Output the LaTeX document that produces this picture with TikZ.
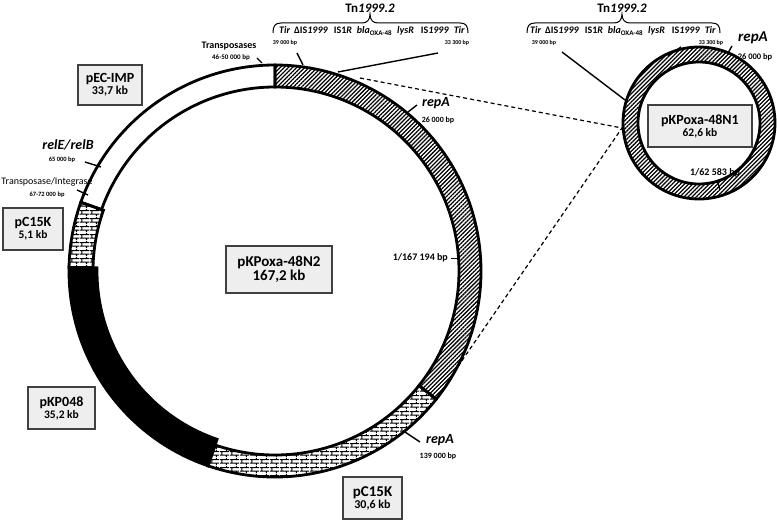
\documentclass[tikz,border=0pt]{standalone}
\usepackage{fontspec}
\setmainfont{Carlito}
\usetikzlibrary{patterns.meta}
\definecolor{boxfill}{RGB}{238,238,238}
\definecolor{boxline}{RGB}{64,64,64}
\newcommand\fsb[2]{\fontsize{#1}{#2}\selectfont}
\tikzdeclarepattern{
  name=mybricks, type=uncolored,
  bottom left={(0pt,0pt)}, top right={(10pt,8pt)},
  tile size={(10pt,8pt)},
  code={
    \draw[line width=1.1pt] (0pt,2pt) -- (10pt,2pt) (0pt,6pt) -- (10pt,6pt)
      (2pt,2pt) -- (2pt,6pt) (7pt,6pt) -- (7pt,8pt) (7pt,0pt) -- (7pt,2pt);
  }
}
\begin{document}
\begin{tikzpicture}[x=1pt,y=1pt,
  pbox/.style={draw=boxline, fill=boxfill, line width=1.1pt, align=center, inner sep=0pt},
  ringseg/.style={draw=black, line width=2.8pt, line join=miter},
  hatchfill/.style={pattern={Lines[angle=45,distance=2.9pt,line width=1.25pt]}},
  brickfill/.style={pattern=mybricks},
  tk/.style={line width=1.4pt},
  dashline/.style={line width=1.2pt, dash pattern=on 4pt off 3pt},
  lbl/.style={inner sep=0pt, font=\bfseries},
  brace/.style={line width=1pt}
]
\useasboundingbox (0,0) rectangle (777,520);

% ---------- big plasmid ring ----------
\begin{scope}[shift={(275pt,249pt)}]
  \path[ringseg, fill=white] (90:206pt) arc[start angle=90, end angle=160.5, radius=206pt]
     -- (160.5:184pt) arc[start angle=160.5, end angle=90, radius=184pt] -- cycle;
  \path[ringseg, hatchfill] (-38.5:206pt) arc[start angle=-38.5, end angle=90, radius=206pt]
     -- (90:184pt) arc[start angle=90, end angle=-38.5, radius=184pt] -- cycle;
  \path[ringseg, brickfill] (251:206pt) arc[start angle=251, end angle=321.5, radius=206pt]
     -- (321.5:184pt) arc[start angle=321.5, end angle=251, radius=184pt] -- cycle;
  \path[ringseg, brickfill] (160.5:206pt) arc[start angle=160.5, end angle=179, radius=206pt]
     -- (179:182pt) arc[start angle=179, end angle=160.5, radius=182pt] -- cycle;
  \path[ringseg, fill=black] (179:206pt) arc[start angle=179, end angle=251, radius=206pt]
     -- (251:178pt) arc[start angle=251, end angle=179, radius=178pt] -- cycle;
\end{scope}

% ---------- small plasmid ring ----------
\path[ringseg, hatchfill, even odd rule] (699,397) circle[radius=76pt] (699,397) circle[radius=61pt];

% ---------- boxes ----------
\node[pbox, minimum width=64pt, minimum height=40pt] (bEC) at (110,435)
  {\fsb{14}{18}\bfseries pEC-IMP\\\fsb{12}{18}\bfseries 33,7 kb};
\node[pbox, minimum width=60pt, minimum height=42pt] (bC15a) at (33,291)
  {\fsb{14}{16}\bfseries pC15K\\\fsb{11.5}{16}\bfseries 5,1 kb};
\node[pbox, minimum width=106pt, minimum height=47pt] (bN2) at (279,250.5)
  {\fsb{15}{18}\bfseries pKPoxa-48N2\\\fsb{15}{18}\bfseries 167,2 kb};
\node[pbox, minimum width=67pt, minimum height=42pt] (bKP) at (61.5,112)
  {\fsb{14}{16}\bfseries pKP048\\\fsb{11.5}{16}\bfseries 35,2 kb};
\node[pbox, minimum width=59pt, minimum height=42pt] (bC15b) at (372.5,22)
  {\fsb{15}{16}\bfseries pC15K\\\fsb{12}{16}\bfseries 30,6 kb};
\node[pbox, minimum width=104pt, minimum height=42pt] (bN1) at (700,394)
  {\fsb{14}{15}\bfseries pKPoxa-48N1\\\fsb{11.5}{15}\bfseries 62,6 kb};

% ---------- Tn1999.2 headers ----------
\node[lbl] (tnA) at (370,512) {\fsb{13}{13}Tn\textit{1999.2}};
\node[lbl] (tnB) at (622,512) {\fsb{13}{13}Tn\textit{1999.2}};
\node[lbl] (genesA) at (372,489) {\fsb{10}{10}\textit{Tir}\hspace{4pt}ΔIS\textit{1999}\hspace{6pt}IS1\textit{R}\hspace{5pt}\textit{bla}\textsubscript{OXA-48}\hspace{5pt}\textit{lysR}\hspace{7pt}IS\textit{1999}\hspace{5pt}\textit{Tir}};
\node[lbl] (genesB) at (623,489) {\fsb{10}{10}\textit{Tir}\hspace{4pt}ΔIS\textit{1999}\hspace{6pt}IS1\textit{R}\hspace{5pt}\textit{bla}\textsubscript{OXA-48}\hspace{5pt}\textit{lysR}\hspace{7pt}IS\textit{1999}\hspace{5pt}\textit{Tir}};
\draw[brace] (273,487) .. controls (273,494) and (275,497) .. (281,497) -- (362,497)
  .. controls (367,497) and (370,500) .. (370,506) .. controls (370,500) and (373,497) .. (378,497)
  -- (460,497) .. controls (466,497) and (468,494) .. (468,487);
\draw[brace] (527,487) .. controls (527,494) and (529,497) .. (535,497) -- (614,497)
  .. controls (619,497) and (622,500) .. (622,506) .. controls (622,500) and (625,497) .. (630,497)
  -- (712,497) .. controls (718,497) and (720,494) .. (720,487);

% ---------- labels, big ring ----------
\node[lbl] (trp) at (229,474) {\fsb{10}{10}Transposases};
\node[lbl] (trpbp) at (231,462) {\fsb{7}{7}46-50 000 bp};
\node[lbl] (a39) at (285,477) {\fsb{6}{6}39 000 bp};
\node[lbl] (a33) at (457,477) {\fsb{6}{6}33 300 bp};
\node[lbl] (repA1) at (436,417) {\fsb{14}{14}\itshape repA};
\node[lbl] (repA1bp) at (438,400) {\fsb{8}{8}26 000 bp};
\node[lbl, anchor=east] (ori1) at (448,262) {\fsb{10}{10}1/167 194 bp};
\node[lbl] (repA2) at (440,80) {\fsb{14}{14}\itshape repA};
\node[lbl] (repA2bp) at (438,64) {\fsb{8}{8}139 000 bp};
\node[lbl] (rel) at (68,375) {\fsb{14}{14}\itshape relE/relB};
\node[lbl] (relbp) at (62,360) {\fsb{6.5}{6.5}65 000 bp};
\node[inner sep=0pt] (ti) at (47,338) {\fsb{10}{10}Transposase/Integrase};
\node[lbl] (tibp) at (47,325) {\fsb{6.5}{6.5}67-72 000 bp};

% ---------- labels, small ring ----------
\node[lbl] (b39) at (544,477) {\fsb{6}{6}39 000 bp};
\node[lbl] (b33) at (711,477) {\fsb{6}{6}33 300 bp};
\node[lbl] (repA3) at (753,482) {\fsb{15}{15}\itshape repA};
\node[lbl] (repA3bp) at (755,463) {\fsb{8.5}{8.5}26 000 bp};
\node[lbl] (ori2) at (715,347) {\fsb{10}{10}1/62 583 bp};

% ---------- tick coordinates ----------
\coordinate (t1a) at (257,462); \coordinate (t1b) at (262,457);
\coordinate (t2a) at (297,467); \coordinate (t2b) at (303,455);
\coordinate (t3a) at (338,448); \coordinate (t3b) at (438,467);
\coordinate (t4a) at (408,408); \coordinate (t4b) at (417,415);
\coordinate (t5a) at (451,262); \coordinate (t5b) at (459,262);
\coordinate (t6a) at (405,88);  \coordinate (t6b) at (420,78);
\coordinate (t7a) at (85,358);  \coordinate (t7b) at (101,353);
\coordinate (t8a) at (77,330);  \coordinate (t8b) at (88,325);
\coordinate (s1a) at (562,468); \coordinate (s1b) at (625,420);
\coordinate (s2a) at (668,464); \coordinate (s2b) at (681,473);
\coordinate (s3a) at (728,467); \coordinate (s3b) at (732,474);
\coordinate (s4a) at (717,340); \coordinate (s4b) at (720,330);
\coordinate (d1) at (360,442); \coordinate (d2) at (450,142); \coordinate (dS) at (622,392);

\draw[tk] (t1a) -- (t1b);
\draw[tk] (t2a) -- (t2b);
\draw[tk] (t3a) -- (t3b);
\draw[tk] (t4a) -- (t4b);
\draw[line width=0.9pt] (t5a) -- (t5b);
\draw[tk] (t6a) -- (t6b);
\draw[tk] (t7a) -- (t7b);
\draw[tk] (t8a) -- (t8b);
\draw[tk] (s1a) -- (s1b);
\draw[tk] (s2a) -- (s2b);
\draw[tk] (s3a) -- (s3b);
\draw[tk] (s4a) -- (s4b);
\draw[dashline] (d1) -- (dS);
\draw[dashline] (d2) -- (dS);
\end{tikzpicture}
\end{document}
